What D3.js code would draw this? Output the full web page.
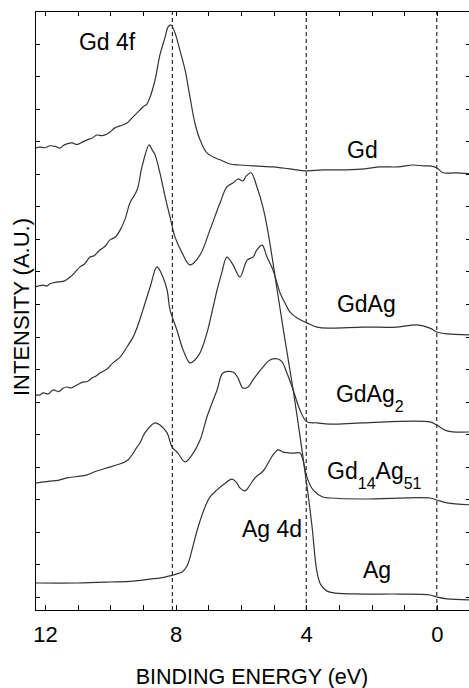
<!DOCTYPE html>
<html>
<head>
<meta charset="utf-8">
<script src="https://cdn.jsdelivr.net/npm/d3@7"></script>
<style>
    html, body { margin: 0; padding: 0; background: #fff; }
    svg { display: block; }
    .curve { fill: none; stroke: #333; stroke-width: 1.2; stroke-linejoin: round; }
    .guide { stroke: #000; stroke-width: 1; stroke-dasharray: 4 3; }
    .axis path, .axis line { stroke: #000; stroke-width: 1; shape-rendering: crispEdges; }
    text { font-family: "Liberation Sans", Arial, sans-serif; fill: #000; }
</style>
</head>
<body>
<svg id="chart"></svg>
<script>
// ── Photoemission spectra: Gd, GdAg, GdAg2, Gd14Ag51, Ag ──────────────────────

// binding energy (eV), offset intensity (a.u.)
const gd = [
    [12.31, 13.79], [12.15, 13.82], [12.0, 13.80], [11.85, 13.86], [11.69, 13.84],
    [11.54, 13.79], [11.45, 13.86], [11.33, 13.92], [11.17, 13.95], [11.02, 13.90],
    [10.85, 13.98], [10.71, 14.04], [10.55, 14.10], [10.41, 14.19], [10.25, 14.17],
    [10.10, 14.22], [10.01, 14.28], [9.86, 14.41], [9.70, 14.47], [9.49, 14.56],
    [9.34, 14.71], [9.18, 14.87], [9.0, 15.05], [8.88, 15.14], [8.78, 15.36],
    [8.63, 15.88], [8.48, 16.65], [8.32, 17.20], [8.23, 17.51], [8.14, 17.57],
    [8.02, 17.33], [7.87, 16.80], [7.71, 16.19], [7.56, 15.36], [7.41, 14.56],
    [7.25, 14.04], [7.04, 13.64], [6.80, 13.49], [6.64, 13.43], [6.33, 13.30],
    [6.03, 13.27], [5.57, 13.24], [5.02, 13.21], [4.75, 13.18], [4.5, 13.15],
    [3.98, 13.09], [3.5, 13.12], [2.75, 13.12], [2.2, 13.15], [1.74, 13.21],
    [1.2, 13.21], [0.73, 13.27], [0.4, 13.24], [0.21, 13.24], [0.0, 13.18],
    [-0.19, 13.03], [-0.56, 13.03], [-1.05, 13.0]
];

const gdAg = [
    [12.31, 9.52], [12.06, 9.58], [11.95, 9.55], [11.85, 9.62], [11.60, 9.68],
    [11.40, 9.71], [11.23, 9.83], [11.10, 9.95], [10.93, 10.14], [10.80, 10.22],
    [10.62, 10.44], [10.50, 10.48], [10.32, 10.66], [10.15, 10.78], [10.01, 10.97],
    [9.85, 11.05], [9.70, 11.27], [9.55, 11.60], [9.40, 12.10], [9.18, 12.50],
    [9.03, 13.21], [8.81, 13.89], [8.72, 13.74], [8.63, 13.58], [8.48, 13.03],
    [8.32, 12.29], [8.17, 11.67], [8.02, 11.06], [7.80, 10.57], [7.56, 10.20],
    [7.25, 10.51], [6.95, 11.27], [6.64, 12.10], [6.43, 12.60], [6.24, 12.72],
    [6.09, 12.84], [5.94, 12.78], [5.84, 12.93], [5.69, 13.03], [5.51, 12.60],
    [5.32, 11.95], [5.17, 11.21], [4.89, 9.43], [4.65, 7.90], [4.40, 6.36],
    [4.13, 4.52], [3.94, 3.13], [3.82, 2.15], [3.67, 0.77], [3.55, 0.37],
    [3.36, 0.18], [3.12, 0.12], [2.26, 0.09], [1.13, 0.09], [0.21, 0.06],
    [0.0, 0.0], [-0.31, -0.06], [-1.05, -0.09]
];

const gdAg2 = [
    [12.31, 6.21], [12.15, 6.21], [12.06, 6.27], [11.90, 6.24], [11.75, 6.36],
    [11.60, 6.31], [11.54, 6.33], [11.45, 6.41], [11.33, 6.45], [11.20, 6.42],
    [11.08, 6.48], [10.95, 6.55], [10.84, 6.60], [10.70, 6.62], [10.56, 6.73],
    [10.45, 6.78], [10.32, 6.88], [10.10, 7.00], [9.92, 7.19], [9.70, 7.37],
    [9.49, 7.68], [9.30, 7.99], [9.15, 8.36], [9.00, 8.82], [8.78, 9.52],
    [8.57, 10.14], [8.39, 9.83], [8.26, 9.43], [8.17, 8.82], [7.96, 8.20],
    [7.77, 7.59], [7.56, 7.19], [7.41, 7.28], [7.25, 7.50], [7.04, 8.11],
    [6.85, 8.91], [6.73, 9.43], [6.58, 9.98], [6.43, 10.44], [6.24, 10.20],
    [6.03, 9.83], [5.81, 10.35], [5.63, 10.44], [5.51, 10.66], [5.35, 10.81],
    [5.20, 10.44], [5.02, 10.05], [4.80, 9.34], [4.65, 9.03], [4.50, 8.76],
    [4.28, 8.57], [3.98, 8.42], [3.67, 8.29], [3.27, 8.26], [2.26, 8.29],
    [1.22, 8.29], [0.61, 8.36], [0.21, 8.26], [0.0, 8.14], [-0.31, 8.08],
    [-1.05, 8.05]
];

const gd14Ag51 = [
    [12.31, 3.50], [12.10, 3.53], [11.85, 3.56], [11.60, 3.58], [11.33, 3.66],
    [11.00, 3.70], [10.71, 3.75], [10.50, 3.84], [10.32, 3.90], [10.05, 3.98],
    [9.79, 4.06], [9.46, 4.21], [9.18, 4.61], [9.09, 4.73], [8.94, 5.04],
    [8.63, 5.35], [8.48, 5.28], [8.26, 5.04], [8.11, 4.61], [7.93, 4.42],
    [7.71, 4.15], [7.50, 4.36], [7.25, 4.82], [7.04, 5.53], [6.73, 6.36],
    [6.55, 6.88], [6.24, 6.91], [6.09, 6.73], [5.94, 6.42], [5.78, 6.45],
    [5.63, 6.67], [5.32, 7.07], [5.11, 7.28], [4.86, 7.31], [4.74, 7.22],
    [4.59, 6.88], [4.40, 6.36], [4.19, 5.74], [3.98, 5.38], [3.67, 5.35],
    [3.27, 5.31], [2.26, 5.35], [0.21, 5.38], [0.0, 5.28], [-0.31, 5.10],
    [-1.05, 5.07]
];

const ag = [
    [12.31, 0.43], [11.02, 0.43], [10.01, 0.46], [9.30, 0.49], [8.78, 0.55],
    [8.48, 0.58], [8.17, 0.65], [7.96, 0.71], [7.80, 0.77], [7.65, 0.95],
    [7.50, 1.44], [7.31, 2.15], [7.10, 2.76], [6.95, 3.07], [6.73, 3.29],
    [6.55, 3.44], [6.27, 3.62], [6.12, 3.50], [6.03, 3.35], [5.87, 3.26],
    [5.72, 3.44], [5.57, 3.66], [5.32, 3.87], [5.02, 4.36], [4.86, 4.52],
    [4.71, 4.45], [4.40, 4.42], [4.19, 4.42], [4.10, 4.21], [3.98, 3.69],
    [3.79, 3.29], [3.49, 3.07], [3.27, 3.04], [2.26, 3.01], [0.21, 3.04],
    [0.0, 2.98], [-0.31, 2.89], [-1.05, 2.83]
];

const series = [gd, gdAg, gdAg2, gd14Ag51, ag];

// reference lines: Gd 4f peak, Ag 4d onset, Fermi level
const guideEnergies = [8.1, 4, 0];

const xTickValues = d3.range(12, -2, -1);   // minor ticks every eV
const xLabelValues = [12, 8, 4, 0];
const yTickValues = d3.range(0, 19);

// spectrum names, with subscripts split out
const labels = [
    { parts: [['Gd 4f', false]],                                   e: 10.96, i: 16.80 },
    { parts: [['Gd', false]],                                      e: 2.75,  i: 13.49 },
    { parts: [['GdAg', false]],                                    e: 3.06,  i: 8.76 },
    { parts: [['GdAg', false], ['2', true]],                       e: 3.09,  i: 5.99 },
    { parts: [['Gd', false], ['14', true], ['Ag', false], ['51', true]], e: 3.36, i: 3.63 },
    { parts: [['Ag 4d', false]],                                   e: 5.97,  i: 1.84 },
    { parts: [['Ag', false]],                                      e: 2.26,  i: 0.58 }
];

(function () {
    'use strict';

    const W = 469, H = 688;
    const left = 35, right = 471, top = 11, bottom = 610;

    const svg = d3.select('#chart').attr('width', W).attr('height', H);

    const x = d3.scaleLinear().domain([12.306, -1.047]).range([left, right]);
    const y = d3.scaleLinear().domain([-0.4, 18]).range([bottom, top]);

    svg.append('defs').append('clipPath').attr('id', 'plot-clip')
        .append('rect')
        .attr('x', left).attr('y', top)
        .attr('width', right - left).attr('height', bottom - top);

    // dashed guides
    svg.append('g')
        .selectAll('line')
        .data(guideEnergies)
        .enter()
        .append('line')
        .attr('class', 'guide')
        .attr('x1', d => x(d)).attr('x2', d => x(d))
        .attr('y1', top).attr('y2', bottom);

    // spectra
    const line = d3.line()
        .curve(d3.curveCatmullRom.alpha(0.5))
        .x(d => x(d[0]))
        .y(d => y(d[1]));

    svg.append('g')
        .attr('clip-path', 'url(#plot-clip)')
        .selectAll('path')
        .data(series)
        .enter()
        .append('path')
        .attr('class', 'curve')
        .attr('d', line);

    // frame with inward ticks on all four sides
    svg.append('g').attr('class', 'axis')
        .attr('transform', `translate(0,${bottom})`)
        .call(d3.axisBottom(x).tickValues(xTickValues).tickSize(-5).tickSizeOuter(0).tickFormat(''));

    svg.append('g').attr('class', 'axis')
        .attr('transform', `translate(0,${top})`)
        .call(d3.axisTop(x).tickValues(xTickValues).tickSize(-5).tickSizeOuter(0).tickFormat(''));

    svg.append('g').attr('class', 'axis')
        .attr('transform', `translate(${left},0)`)
        .call(d3.axisLeft(y).tickValues(yTickValues).tickSize(-5).tickSizeOuter(0).tickFormat(''));

    svg.append('g').attr('class', 'axis')
        .attr('transform', `translate(${right},0)`)
        .call(d3.axisRight(y).tickValues(yTickValues).tickSize(-5).tickSizeOuter(0).tickFormat(''));

    // energy labels under the frame
    const xLabels = svg.append('g').attr('class', 'axis')
        .attr('transform', `translate(0,${bottom})`)
        .call(d3.axisBottom(x).tickValues(xLabelValues).tickSize(0).tickPadding(16).tickFormat(d3.format('d')));
    xLabels.select('.domain').remove();
    xLabels.selectAll('text')
        .attr('font-size', 22)
        .attr('font-family', '"Liberation Sans", Arial, sans-serif')
        .style('fill', '#000');

    // axis titles
    svg.append('text')
        .attr('x', (left + W) / 2)
        .attr('y', 684)
        .attr('text-anchor', 'middle')
        .attr('font-size', 21.5)
        .text('BINDING ENERGY (eV)');

    svg.append('text')
        .attr('transform', 'translate(29,307) rotate(-90)')
        .attr('text-anchor', 'middle')
        .attr('font-size', 22)
        .text('INTENSITY (A.U.)');

    // spectrum labels
    labels.forEach(function (lab) {
        const t = svg.append('text')
            .attr('x', x(lab.e))
            .attr('y', y(lab.i))
            .attr('font-size', 23);
        let shifted = false;
        lab.parts.forEach(function (p) {
            const span = t.append('tspan').text(p[0]);
            if (p[1] && !shifted) { span.attr('font-size', 16).attr('dy', 10); shifted = true; }
            else if (!p[1] && shifted) { span.attr('dy', -10); shifted = false; }
            else if (p[1]) { span.attr('font-size', 16); }
        });
    });
})();
</script>
</body>
</html>
